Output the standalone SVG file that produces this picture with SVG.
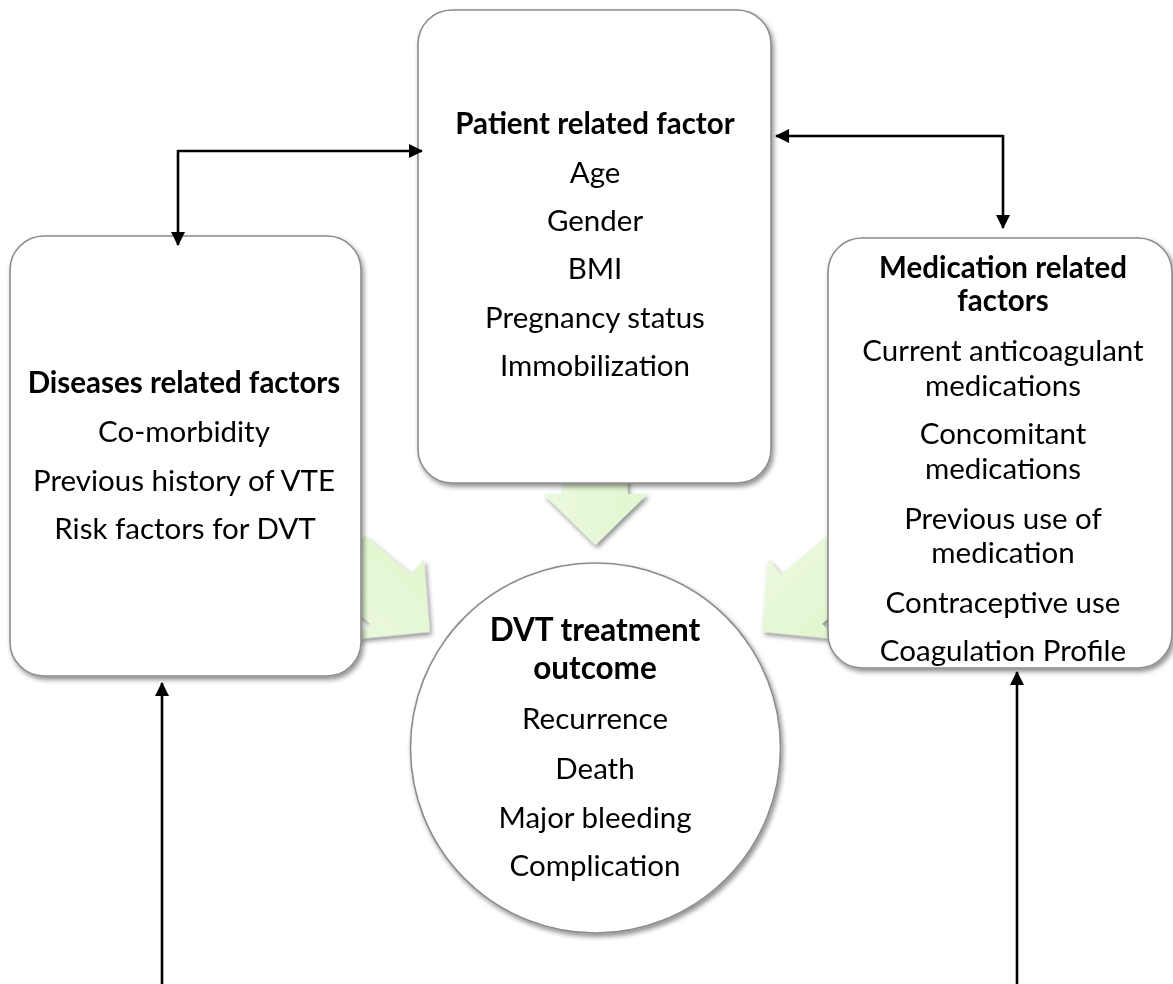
<svg xmlns="http://www.w3.org/2000/svg" width="1173" height="984" viewBox="0 0 1173 984">
<defs>
  <filter id="sh" x="-10%" y="-10%" width="125%" height="125%">
    <feGaussianBlur in="SourceAlpha" stdDeviation="2.5"/>
    <feOffset dx="2" dy="3" result="b"/>
    <feComponentTransfer><feFuncA type="linear" slope="0.45"/></feComponentTransfer>
    <feMerge><feMergeNode/><feMergeNode in="SourceGraphic"/></feMerge>
  </filter>
  <linearGradient id="gg" x1="0" y1="0" x2="0" y2="1">
    <stop offset="0" stop-color="#e2f6cf"/>
    <stop offset="1" stop-color="#eaf9dd"/>
  </linearGradient>
  <marker id="ah" viewBox="0 0 14 14" refX="13" refY="7" markerWidth="14" markerHeight="14" markerUnits="userSpaceOnUse" orient="auto">
    <path d="M0,0 L14,7 L0,14 Z" fill="#000"/>
  </marker>
  <path id="garrow" d="M-60,-32 L0,-32 L0,-52 L51,0 L0,52 L0,32 L-60,32 Z"/>
</defs>
<style>
  .box { fill: #ffffff; stroke: #8c8c8c; stroke-width: 1.6; }
  .green { fill: url(#gg); }
  .t { font-family: Lato, "Liberation Sans", sans-serif; font-size: 29.5px; fill: #000; text-anchor: middle; }
  .b { font-weight: bold; }
  .big { font-size: 31.5px; }
  .conn { fill: none; stroke: #000; stroke-width: 2.6; }
</style>
<rect width="1173" height="984" fill="#ffffff"/>

<g id="green-arrows" filter="url(#sh)">
  <use href="#garrow" class="green" transform="translate(595.5,494) rotate(90)"/>
  <use href="#garrow" class="green" transform="translate(390.5,599) rotate(39.9)"/>
  <use href="#garrow" class="green" transform="translate(801.5,599) rotate(140.1)"/>
</g>

<g id="node-diseases">
  <rect class="box" x="10" y="236" width="351" height="440" rx="34" filter="url(#sh)"/>
  <text class="t b" x="184" y="393">Diseases related factors</text>
  <text class="t" x="184" y="442">Co-morbidity</text>
  <text class="t" x="184" y="491">Previous history of VTE</text>
  <text class="t" x="185" y="539">Risk factors for DVT</text>
</g>

<g id="node-patient">
  <rect class="box" x="418" y="10" width="353" height="473" rx="34" filter="url(#sh)"/>
  <text class="t b" x="595" y="134">Patient related factor</text>
  <text class="t" x="595" y="183">Age</text>
  <text class="t" x="595" y="231">Gender</text>
  <text class="t" x="595" y="279">BMI</text>
  <text class="t" x="595" y="328">Pregnancy status</text>
  <text class="t" x="595" y="376">Immobilization</text>
</g>

<g id="node-medication">
  <rect class="box" x="828" y="238" width="344" height="430" rx="34" filter="url(#sh)"/>
  <text class="t b" x="1003" y="278">Medication related</text>
  <text class="t b" x="1003" y="311">factors</text>
  <text class="t" x="1003" y="361">Current anticoagulant</text>
  <text class="t" x="1003" y="396">medications</text>
  <text class="t" x="1003" y="444">Concomitant</text>
  <text class="t" x="1003" y="479">medications</text>
  <text class="t" x="1003" y="529">Previous use of</text>
  <text class="t" x="1003" y="563">medication</text>
  <text class="t" x="1003" y="613">Contraceptive use</text>
  <text class="t" x="1003" y="661">Coagulation Profile</text>
</g>

<g id="node-outcome">
  <circle class="box" cx="595.5" cy="748" r="185" filter="url(#sh)"/>
  <text class="t b big" x="595" y="641">DVT treatment</text>
  <text class="t b big" x="595" y="679">outcome</text>
  <text class="t" x="595" y="729">Recurrence</text>
  <text class="t" x="595" y="779">Death</text>
  <text class="t" x="595" y="828">Major bleeding</text>
  <text class="t" x="595" y="876">Complication</text>
</g>

<g id="connectors">
  <path class="conn" d="M178,151 L422,151" marker-end="url(#ah)"/>
  <path class="conn" d="M178,150 L178,245" marker-end="url(#ah)"/>
  <path class="conn" d="M1003,136 L776,136" marker-end="url(#ah)"/>
  <path class="conn" d="M1003,135 L1003,228" marker-end="url(#ah)"/>
  <path class="conn" d="M162,984 L162,683" marker-end="url(#ah)"/>
  <path class="conn" d="M1017,984 L1017,672" marker-end="url(#ah)"/>
</g>
</svg>
